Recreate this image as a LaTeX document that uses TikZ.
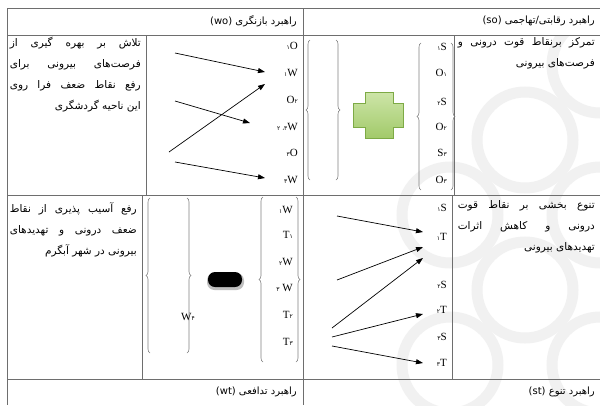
\documentclass[tikz,border=0pt]{standalone}
\usepackage{fontspec}
\setmainfont{Liberation Serif}
\newfontfamily\fa[Script=Arabic]{DejaVu Sans}
\TeXXeTstate=1
\usetikzlibrary{arrows.meta, positioning, decorations.pathreplacing}

\definecolor{gridgray}{HTML}{6E6E6E}
\definecolor{pluslight}{HTML}{CDE5A8}
\definecolor{plusmid}{HTML}{A2CA6A}
\definecolor{plusdark}{HTML}{7DAA45}
\definecolor{markgray}{HTML}{F1F1F1}

\newcommand{\pd}[1]{{\fa\fontsize{6}{6}\selectfont #1}}

\begin{document}
\begin{tikzpicture}[x=1pt, y=-1pt,
  lbl/.style={inner sep=0pt, anchor=east, font=\fontsize{11}{11}\selectfont},
  txt/.style={inner sep=0pt, anchor=north east, align=right, font=\fa\fontsize{10.5}{21}\selectfont},
  head/.style={inner sep=0pt, anchor=east, font=\fa\fontsize{10}{10}\selectfont},
  arrow/.style={-{Triangle[length=7pt, width=5pt]}, line width=0.7pt},
  grid/.style={draw=gridgray, line width=1pt},
  curly/.style={decorate, decoration={brace, amplitude=4pt}, draw=black!50, line width=0.6pt}
]
\useasboundingbox (0,0) rectangle (600,405);
\fill[white] (0,0) rectangle (600,405);

% watermark
\begin{scope}
\clip (304,36) rectangle (600,405);
\foreach \cx/\cy in {525/140, 525/290, 600/215, 450/215, 600/365, 600/65, 450/365}
  \draw[markgray, line width=11pt] (\cx,\cy) circle (48);
\end{scope}

% table
\draw[grid] (7,8) -- (600,8);
\draw[grid] (7,35) -- (600,35);
\draw[grid] (7,195) -- (600,195);
\draw[grid] (7,379) -- (600,379);
\draw[grid] (7,8) -- (7,405);
\draw[grid] (303,8) -- (303,405);
\draw[grid] (146,35) -- (146,195);
\draw[grid] (454,35) -- (454,195);
\draw[grid] (142,195) -- (142,379);
\draw[grid] (452,195) -- (452,379);

% headers
\node[head] (hwo) at (297,21) {\beginR راهبرد بازنگری \beginL(wo)\endL\endR};
\node[head] (hso) at (595,21) {\beginR راهبرد رقابتی/تهاجمی \beginL(so)\endL\endR};
\node[head] (hwt) at (297,392) {\beginR راهبرد تدافعی \beginL(wt)\endL\endR};
\node[head] (hst) at (595,392) {\beginR راهبرد تنوع \beginL(st)\endL\endR};

% texts
\node[txt] (two) at (141,37) {\hbox to 131pt{\beginR تلاش بر بهره گیری از\endR}\\
  \hbox to 131pt{\beginR فرصت‌های بیرونی برای\endR}\\
  \hbox to 131pt{\beginR رفع نقاط ضعف فرا روی\endR}\\
  \beginR این ناحیه گردشگری\endR};
\node[txt] (tso) at (595,37) {\hbox to 137pt{\beginR تمرکز برنقاط قوت درونی و\endR}\\
  \beginR فرصت‌های بیرونی\endR};
\node[txt] (twt) at (137,202) {\hbox to 127pt{\beginR رفع آسیب پذیری از نقاط\endR}\\
  \hbox to 127pt{\beginR ضعف درونی و تهدیدهای\endR}\\
  \beginR بیرونی در شهر آبگرم\endR};
\node[txt] (tst) at (595,200) {\hbox to 137pt{\beginR تنوع بخشی بر نقاط قوت\endR}\\
  \hbox to 137pt{\beginR درونی و کاهش اثرات\endR}\\
  \beginR تهدیدهای بیرونی\endR};

% wo labels
\node[lbl] (o1) at (298,46) {\pd{۱}O};
\node[lbl] (w1) at (298,73) {\pd{۱}W};
\node[lbl] (o2) at (298,100) {O\pd{۲}};
\node[lbl] (w23) at (298,127) {\pd{\beginR ۳، ۲\endR}W};
\node[lbl] (o3) at (298,153) {\pd{۳}O};
\node[lbl] (w3) at (298,180) {\pd{۳}W};

\coordinate (a1) at (175,53);  \coordinate (b1) at (265,72);
\coordinate (a2) at (175,101); \coordinate (b2) at (250,123);
\coordinate (a3) at (169,152); \coordinate (b3) at (265,84);
\coordinate (a4) at (175,162); \coordinate (b4) at (265,178);
\draw[arrow] (a1) -- (b1);
\draw[arrow] (a2) -- (b2);
\draw[arrow] (a3) -- (b3);
\draw[arrow] (a4) -- (b4);

% so cell
\draw[curly] (310,180) -- (310,40);
\draw[curly] (336,40) -- (336,180);
\shade[top color=pluslight, bottom color=plusmid, draw=plusdark, line width=0.6pt]
  (365,92) -- (393,92) -- (393,103) -- (403,103) -- (403,127) -- (393,127) -- (393,138)
  -- (365,138) -- (365,127) -- (353,127) -- (353,103) -- (365,103) -- cycle;
\draw[curly] (421,190) -- (421,43);
\draw[curly] (451,43) -- (451,190);
\node[lbl] (s1) at (447,47) {\pd{۱}S};
\node[lbl] (so1) at (447,73) {O\pd{۱}};
\node[lbl] (s2) at (447,102) {\pd{۲}S};
\node[lbl] (so2) at (447,127) {O\pd{۲}};
\node[lbl] (s3) at (447,153) {S\pd{۳}};
\node[lbl] (so3) at (447,180) {O\pd{۳}};

% wt cell
\draw[curly] (150,353) -- (150,198);
\draw[curly] (187,198) -- (187,353);
\node[lbl] (w4) at (195,317) {W\pd{۴}};
\fill[black!25, rounded corners=7.5pt] (207,273) rectangle (244,290);
\fill[black, rounded corners=7pt] (208,272) rectangle (242,287);
\draw[curly] (263,362) -- (263,197);
\draw[curly] (296,197) -- (296,362);
\node[lbl] (tw1) at (293,210) {\pd{۱}W};
\node[lbl] (tt1) at (293,235) {T\pd{۱}};
\node[lbl] (tw2) at (293,262) {\pd{۲}W};
\node[lbl] (tw3) at (293,288) {\pd{۳} W};
\node[lbl] (tt2) at (293,315) {T\pd{۲}};
\node[lbl] (tt3) at (293,342) {T\pd{۳}};

% st cell
\node[lbl] (ss1) at (447,208) {\pd{۱}S};
\node[lbl] (st1) at (447,237) {\pd{۱}T};
\node[lbl] (ss2) at (447,285) {\pd{۲}S};
\node[lbl] (st2) at (447,310) {\pd{۲}T};
\node[lbl] (ss3) at (447,337) {\pd{۳}S};
\node[lbl] (st3) at (447,363) {\pd{۳}T};

\coordinate (c1) at (337,216); \coordinate (d1) at (423,232);
\coordinate (c2) at (337,280); \coordinate (d2) at (423,247);
\coordinate (c3) at (332,328); \coordinate (d3) at (423,258);
\coordinate (c4) at (332,337); \coordinate (d4) at (423,314);
\coordinate (c5) at (332,346); \coordinate (d5) at (423,363);
\draw[arrow] (c1) -- (d1);
\draw[arrow] (c2) -- (d2);
\draw[arrow] (c3) -- (d3);
\draw[arrow] (c4) -- (d4);
\draw[arrow] (c5) -- (d5);
\end{tikzpicture}
\end{document}
